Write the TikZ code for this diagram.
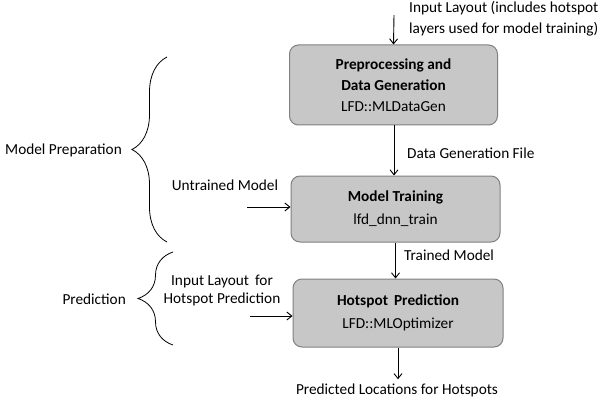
\documentclass[tikz,border=0pt]{standalone}
\usepackage{fontspec}
\setmainfont{Carlito}
\usetikzlibrary{arrows.meta,positioning,decorations.pathreplacing}

\begin{document}
\begin{tikzpicture}[x=1pt,y=-1pt,font=\fontsize{15.3}{21}\selectfont,
  box/.style={draw=black!50,fill=black!22,line width=1pt,rounded corners=9pt,align=center},
  lab/.style={align=left,inner sep=1pt},
  arr/.style={-{Straight Barb[length=5pt,width=8pt]},line width=0.9pt},
  brc/.style={decorate,decoration={brace,amplitude=#1},line width=0.8pt}]
\useasboundingbox (0,0) rectangle (614,404);
% main flow
\node[box,minimum width=208pt,minimum height=80pt] (prep) at (393.5,85) {\textbf{Preprocessing and}\\\textbf{Data Generation}\\LFD::MLDataGen};
\node[box,minimum width=209pt,minimum height=66pt] (train) at (395.5,209) {\textbf{Model Training}\\[2pt]lfd\_dnn\_train};
\node[box,minimum width=210pt,minimum height=68pt] (predict) at (398,313) {\textbf{Hotspot\, Prediction}\\[2pt]LFD::MLOptimizer};
\coordinate (in) at (394,15);
\node[lab,anchor=north west] (inlab) at (408,0) {Input Layout (includes hotspot\\layers used for model training)};
\node[lab,anchor=west] (datalab) at (406,153) {Data Generation File};
\node[lab,anchor=west] (trainedlab) at (403,255) {Trained Model};
\node[lab] (out) at (397,390) {Predicted Locations for Hotspots};
\draw[arr] (in) -- (prep.north);
\draw[arr] (prep.south -| in) -- (train.north -| in);
\draw[arr] (train.south) -- (predict.north -| train.south);
\draw[arr] (predict.south) -- ([yshift=3pt]out.north -| predict.south);
% side inputs
\node[lab] (untrained) at (225,185) {Untrained Model};
\coordinate (untrainedin) at (247,207);
\draw[arr] (untrainedin) -- (train.west |- untrainedin);
\node[lab,align=center] (layoutlab) at (222,290) {Input Layout\, for\\[-3pt]Hotspot Prediction};
\coordinate (layoutin) at (250,316);
\draw[arr] (layoutin) -- (predict.west |- layoutin);
% braces
\draw[brc=35pt] (167,242) -- (167,57);
\node[lab,anchor=east] (prepbrace) at (123,150) {Model Preparation};
\draw[brc=35pt] (173,345) -- (173,252);
\node[lab,anchor=east] (predbrace) at (127,299) {Prediction};
\end{tikzpicture}
\end{document}
